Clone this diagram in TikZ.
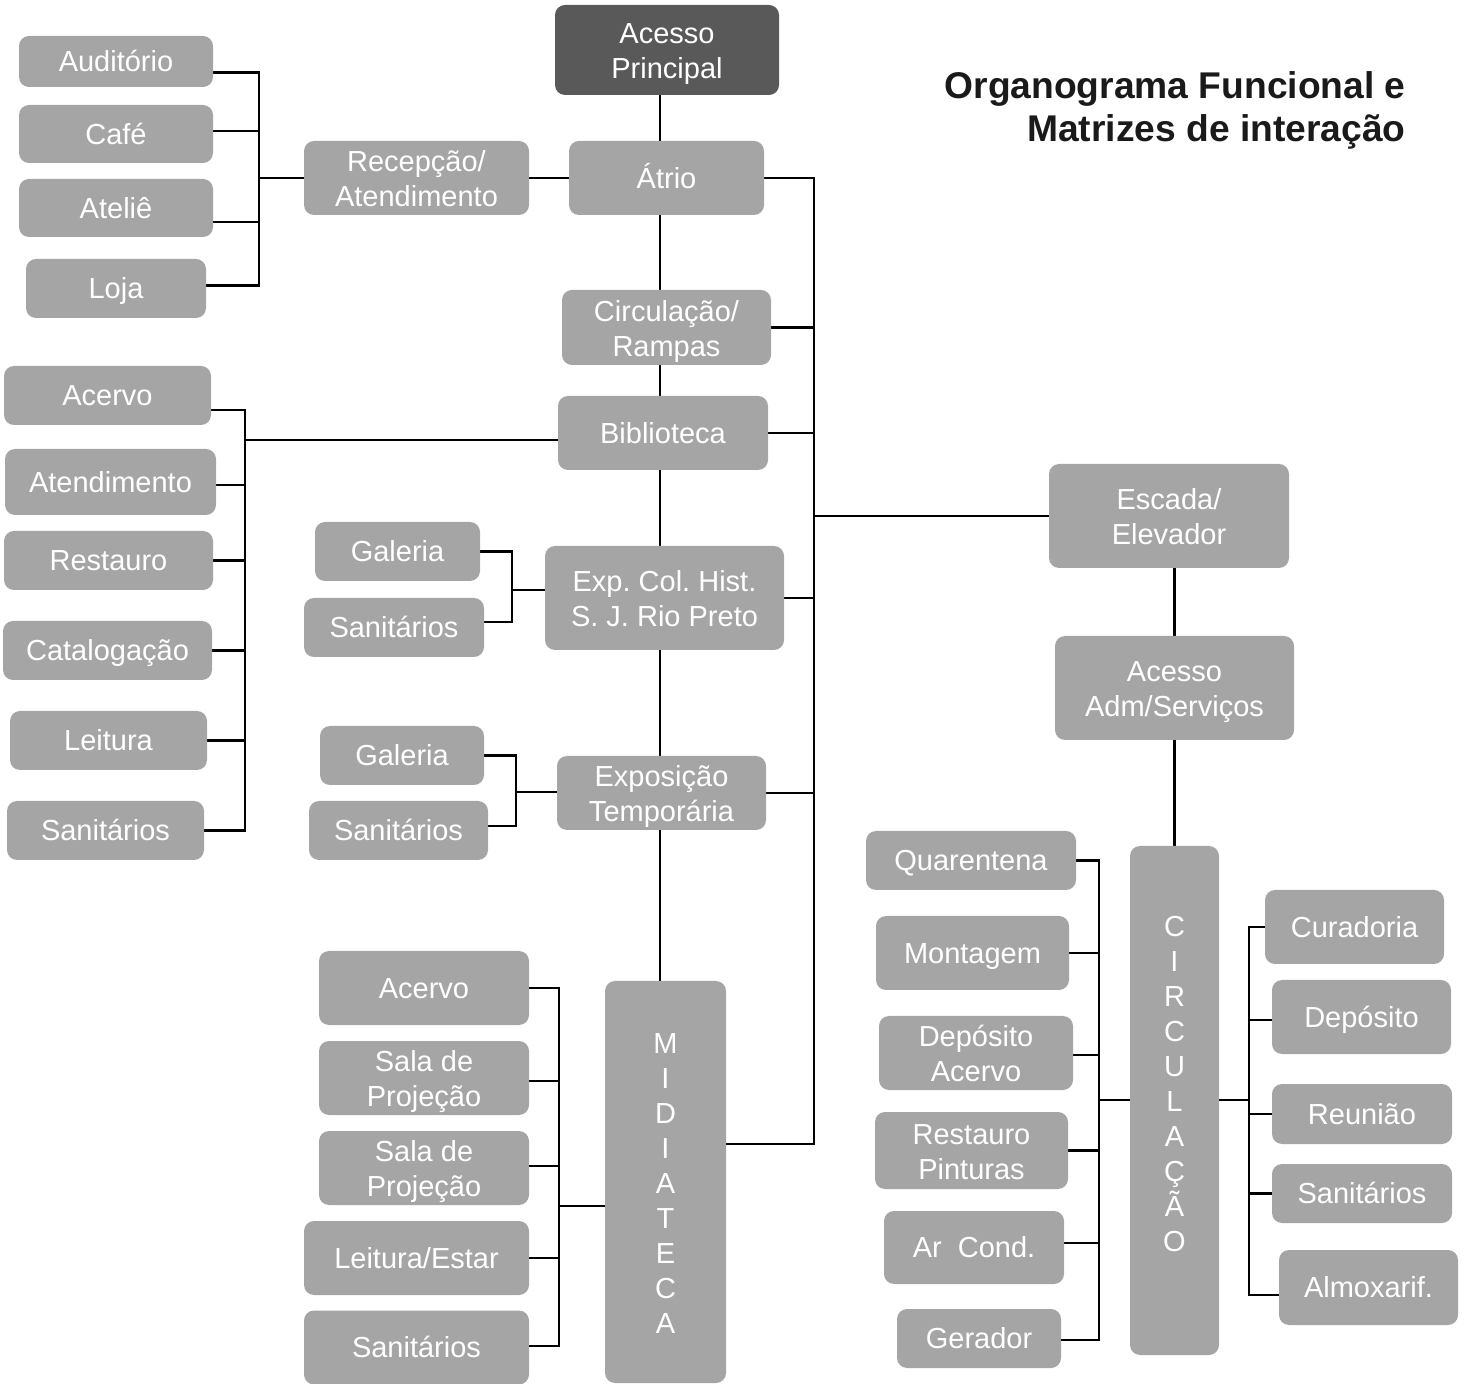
\documentclass[tikz,border=0pt]{standalone}
\usepackage{fontspec}
\setmainfont{Liberation Sans}
\usetikzlibrary{backgrounds,calc}
\definecolor{BoxGray}{HTML}{A5A5A5}
\definecolor{BoxDark}{HTML}{595959}
\definecolor{TitleInk}{HTML}{1A1A1A}
\newcommand{\ArialStrut}{\rule[-0.212em]{0pt}{1.117em}}
\newcommand{\TallStrut}{\rule[-0.212em]{0pt}{\dimexpr1.117em+1.2pt\relax}}
\tikzset{
    block/.style = {fill=BoxGray, rounded corners=5pt, text=white,
        align=center, inner sep=0pt,
        font=\fontsize{14.5}{17.5}\selectfont,
        execute at begin node=\ArialStrut,
        execute at end node=\ArialStrut},
    mainblock/.style = {block, fill=BoxDark},
    dims/.style 2 args = {minimum width=#1pt, minimum height=#2pt},
    link/.style = {draw, black, line width=1.2pt},
    heading/.style = {anchor=base east, text=TitleInk, inner sep=0pt,
        font=\fontsize{18.6}{20}\selectfont\bfseries}
}

\begin{document}
\frenchspacing
\begin{tikzpicture}[x=0.5pt,y=-0.5pt]
\useasboundingbox (0,0) rectangle (1468,1384);

\node[heading] (tit1) at (1406,99) {Organograma Funcional e};
\node[heading] (tit2) at (1406,142) {Matrizes de interação};

% eixo central
\node[mainblock, dims={112}{45}] (acesso) at (667,50) {\TallStrut Acesso\\Principal};
\node[block, dims={97.5}{37}] (atrio) at (666.5,178) {Átrio};
\node[block, dims={112.5}{37}] (recep) at (416.5,178) {\TallStrut Recepção/\\Atendimento};
\node[block, dims={104.5}{37.5}] (circr) at (666.5,327.5) {\TallStrut Circulação/\\Rampas};
\node[block, dims={105}{37}] (bibl) at (663,433) {Biblioteca};
\node[block, dims={119.5}{52}] (expcol) at (664.5,598) {\TallStrut Exp. Col. Hist.\\S. J. Rio Preto};
\node[block, dims={104.5}{37}] (expo) at (661.5,793) {\TallStrut Exposição\\Temporária};
\node[block, dims={60.5}{201}] (midia) at (665.5,1182) {\TallStrut M\\I\\D\\I\\A\\T\\E\\C\\A};

% recepcao
\node[block, dims={97}{25.5}] (aud) at (116,61.5) {Auditório};
\node[block, dims={97}{29}] (cafe) at (116,134) {Café};
\node[block, dims={97}{29}] (atel) at (116,208) {Ateliê};
\node[block, dims={90}{29.5}] (loja) at (116,288.5) {Loja};

% biblioteca
\node[block, dims={103.5}{29.5}] (bacv) at (107.5,395.5) {Acervo};
\node[block, dims={105.5}{33}] (batd) at (110.5,482) {Atendimento};
\node[block, dims={104.5}{29.5}] (brst) at (108.5,560.5) {Restauro};
\node[block, dims={104.5}{29.5}] (bcat) at (107.5,650.5) {Catalogação};
\node[block, dims={98.5}{29.5}] (blei) at (108.5,740.5) {Leitura};
\node[block, dims={98.5}{29.5}] (bsan) at (105.5,830.5) {Sanitários};

% exposicoes
\node[block, dims={82.5}{29.5}] (egal) at (397.5,551.5) {Galeria};
\node[block, dims={90}{29.5}] (esan) at (394,627.5) {Sanitários};
\node[block, dims={82}{29.5}] (tgal) at (402,755.5) {Galeria};
\node[block, dims={89.5}{29.5}] (tsan) at (398.5,830.5) {Sanitários};

% midiateca
\node[block, dims={105}{37}] (macv) at (424,988) {Acervo};
\node[block, dims={105}{37}] (mpj1) at (424,1078) {\TallStrut Sala de\\Projeção};
\node[block, dims={105}{37}] (mpj2) at (424,1168) {\TallStrut Sala de\\Projeção};
\node[block, dims={112.5}{37}] (mlei) at (416.5,1258) {Leitura/Estar};
\node[block, dims={112.5}{37}] (msan) at (416.5,1347.5) {Sanitários};

% administracao / servicos
\node[block, dims={120}{52}] (escada) at (1169,516) {\TallStrut Escada/\\Elevador};
\node[block, dims={119.5}{52}] (adm) at (1174.5,688) {\TallStrut Acesso\\Adm/Serviços};
\node[block, dims={44.5}{254.5}] (circv) at (1174.5,1100.5) {\TallStrut C\\I\\R\\C\\U\\L\\A\\Ç\\Ã\\O\\};

\node[block, dims={105}{29.5}] (qua) at (971,860.5) {Quarentena};
\node[block, dims={96.5}{37}] (mon) at (972.5,953) {Montagem};
\node[block, dims={97}{37}] (dep) at (976,1053) {\TallStrut Depósito\\Acervo};
\node[block, dims={96.5}{38.5}] (rpi) at (971.5,1150.5) {\TallStrut Restauro\\Pinturas};
\node[block, dims={90}{36.5}] (arc) at (974,1247.5) {Ar~~Cond.};
\node[block, dims={82}{29.5}] (ger) at (979,1338.5) {Gerador};

\node[block, dims={89.5}{37}] (cur) at (1354.5,927) {Curadoria};
\node[block, dims={89.5}{37}] (rdep) at (1361.5,1017) {Depósito};
\node[block, dims={90}{30}] (reu) at (1362,1114) {Reunião};
\node[block, dims={90}{29.5}] (rsan) at (1362,1193.5) {Sanitários};
\node[block, dims={89.5}{37.5}] (alm) at (1368.5,1287.5) {Almoxarif.};

\begin{scope}[on background layer]
    \coordinate (tk) at (660,0);
    \coordinate (rb) at (814,1144);
    \coordinate (j1) at (259,178);
    \coordinate (j2) at (245,440);
    \coordinate (j3) at (512,590);
    \coordinate (j4) at (516,792);
    \coordinate (j5) at (559,1206);
    \coordinate (j6) at (1099,1100);
    \coordinate (j7) at (1249,1100);

    \draw[link] (acesso.south -| tk) -- (midia.north -| tk);
    \draw[link] (recep.east) -- (atrio.west);
    \draw[link] (atrio.east) -| (rb) -- (rb -| midia.east);
    \foreach \c in {circr,bibl,expcol,expo}
        \draw[link] (\c.east) -- (\c.east -| rb);
    \draw[link] (escada.west) -- (escada.west -| rb);
    \draw[link] (adm.north) -- (adm.north |- escada.south);
    \draw[link] (adm.south) -- (circv.north);

    \foreach \c/\s in {aud/-5.5,cafe/1.5,atel/-7,loja/1.5}
        \draw[link] ([yshift=\s pt]\c.east) -| (j1);
    \draw[link] (j1) -- (recep.west);

    \foreach \c/\s in {bacv/-7.25,batd/-1.5,brst/0,bcat/0,blei/0,bsan/0}
        \draw[link] ([yshift=\s pt]\c.east) -| (j2);
    \draw[link] (j2) -- (j2 -| bibl.west);

    \foreach \c/\s in {egal/0,esan/2.75}
        \draw[link] ([yshift=\s pt]\c.east) -| (j3);
    \draw[link] (j3) -- (j3 -| expcol.west);

    \foreach \c/\s in {tgal/0,tsan/2.25}
        \draw[link] ([yshift=\s pt]\c.east) -| (j4);
    \draw[link] (j4) -- (j4 -| expo.west);

    \foreach \c/\s in {macv/0,mpj1/-1.5,mpj2/1,mlei/0,msan/0.75}
        \draw[link] ([yshift=\s pt]\c.east) -| (j5);
    \draw[link] (j5) -- (j5 -| midia.west);

    \foreach \c/\s in {qua/0,mon/0,dep/-1,rpi/0,arc/2.25,ger/-0.75}
        \draw[link] ([yshift=\s pt]\c.east) -| (j6);
    \draw[link] (j6) -- (j6 -| circv.west);

    \foreach \c/\s in {cur/0,rdep/-1.5,reu/0,rsan/0,alm/-3.75}
        \draw[link] ([yshift=\s pt]\c.west) -| (j7);
    \draw[link] (j7) -- (j7 -| circv.east);
\end{scope}
\end{tikzpicture}
\end{document}
